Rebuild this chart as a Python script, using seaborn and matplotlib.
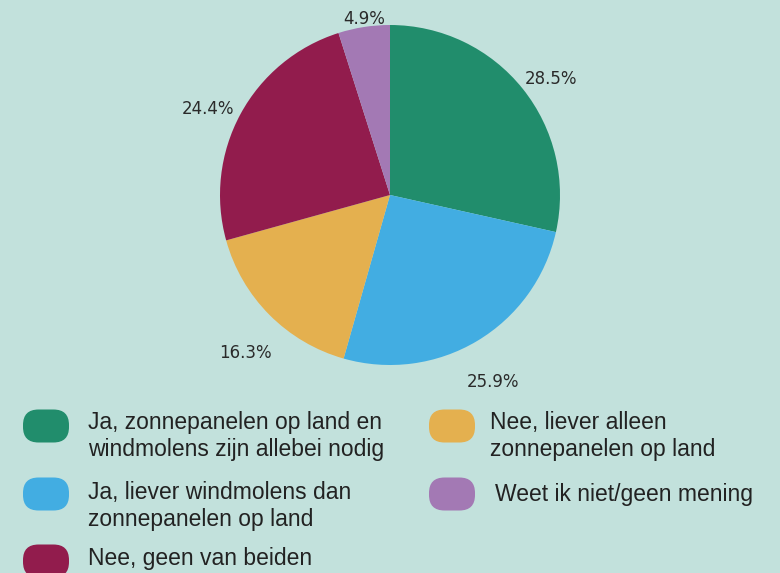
import numpy as np
import matplotlib
matplotlib.use("Agg")
import matplotlib.pyplot as plt
import seaborn as sns
from matplotlib.patches import FancyBboxPatch

categories = [
    "Ja, zonnepanelen op land en\nwindmolens zijn allebei nodig",
    "Ja, liever windmolens dan\nzonnepanelen op land",
    "Nee, liever alleen\nzonnepanelen op land",
    "Nee, geen van beiden",
    "Weet ik niet/geen mening",
]
values = [28.5, 25.9, 16.3, 24.4, 4.9]
labels = ["28.5%", "25.9%", "16.3%", "24.4%", "4.9%"]
colors = ["#218d6c", "#42ade2", "#e4b04f", "#921c4d", "#a379b4"]

BG = "#c2e1dc"
sns.set_theme(style="white")
plt.rcParams["font.family"] = ["DejaVu Sans"]

W, H = 780, 573
fig = plt.figure(figsize=(W / 100, H / 100), dpi=100)
fig.patch.set_facecolor(BG)

# pie axes: center (390,195) px, radius 170 px
cx, cy, r = 390, 195, 170
ax = fig.add_axes([(cx - r) / W, (H - cy - r) / H, 2 * r / W, 2 * r / H])
ax.set_facecolor("none")
wedges, _ = ax.pie(values, colors=colors, startangle=90, counterclock=False,
                   radius=1.0, wedgeprops=dict(linewidth=0))
ax.set_xlim(-1, 1)
ax.set_ylim(-1, 1)
ax.set_aspect("equal")
ax.axis("off")

label_dist = [1.167, 1.256, 1.261, 1.184, 1.047]
label_angle_shift = [-2.9, -2.0, 2.6, 3.1, -0.4]
start = 90.0
for v, lab, d, s in zip(values, labels, label_dist, label_angle_shift):
    ang = start - v / 100 * 360 / 2 + s
    start -= v / 100 * 360
    a = np.deg2rad(ang)
    ax.text(d * np.cos(a), d * np.sin(a), lab, ha="center", va="center",
            fontsize=12, color="#2a2a2a", clip_on=False)

# legend overlay in pixel coordinates
lax = fig.add_axes([0, 0, 1, 1])
lax.set_xlim(0, W)
lax.set_ylim(H, 0)
lax.axis("off")
lax.set_facecolor("none")

marker_pos = [(46, 426), (46, 494), (452, 426), (46, 561), (452, 494)]
text_pos = [(88, 436), (88, 506), (490, 436), (88, 558), (495, 494)]
mw, mh = 46, 33
pad = 15.5
for (mx, my), (tx, ty), c, cat in zip(marker_pos, text_pos, colors, categories):
    p = FancyBboxPatch((mx - mw / 2 + pad, my - mh / 2 + pad), mw - 2 * pad, mh - 2 * pad,
                       boxstyle=f"round,pad={pad}", facecolor=c, edgecolor="none")
    lax.add_patch(p)
    lax.text(tx, ty, cat, ha="left", va="center", fontsize=16.5,
             family=["Liberation Sans", "DejaVu Sans"], color="#222222",
             linespacing=1.2)

fig.savefig("out.png", dpi=100, facecolor=BG)
